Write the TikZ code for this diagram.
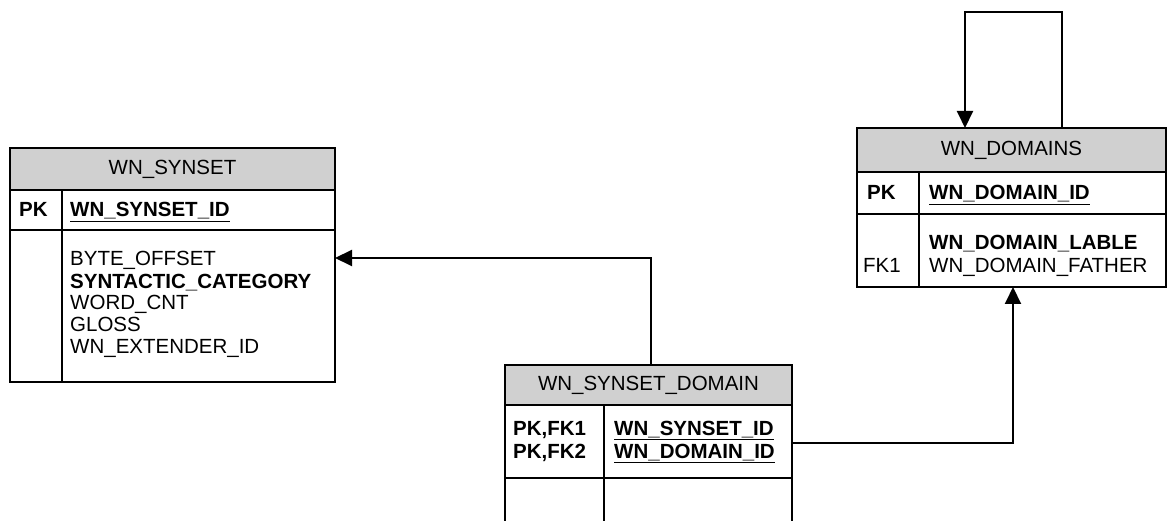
\documentclass[tikz,border=0pt]{standalone}
\usepackage{fontspec}
\setmainfont{Liberation Sans}
\usetikzlibrary{arrows.meta}
\definecolor{hdrgray}{RGB}{208,208,208}
\begin{document}
\begin{tikzpicture}[x=1pt,y=-1pt,
  box/.style={draw=black, line width=1.3pt, inner sep=0pt, outer sep=0pt, anchor=north west},
  hdr/.style={box, fill=hdrgray},
  title/.style={font=\fontsize{20.5}{22}\selectfont, inner sep=0pt},
  fld/.style={font=\fontsize{20.5}{22}\selectfont, inner sep=0pt, anchor=base west, align=left},
  fldw/.style={fld, font=\fontsize{20.5}{23}\selectfont},
  key/.style={fld, font=\fontsize{20.5}{23}\selectfont\bfseries},
  conn/.style={draw=black, line width=2pt},
  tip/.style={-{Triangle[length=17pt,width=16pt]}},
  rule/.style={draw=black, line width=1.3pt}
]
\useasboundingbox (0,0) rectangle (1168,521);

% ---------- WN_SYNSET ----------
\node[hdr, minimum width=325pt, minimum height=42pt] (sh) at (10,148) {};
\node[title] (sht) at (sh.center) {WN\_SYNSET};
\node[box, minimum width=325pt, minimum height=40pt] (spk) at (10,190) {};
\node[box, minimum width=325pt, minimum height=152pt] (sb) at (10,230) {};
\coordinate (sdiv) at (62,0);
\draw[rule] (spk.north -| sdiv) -- (sb.south -| sdiv);
\node[key] (spkl) at (19,217) {PK};
\node[key] (spkf) at (70,217) {\underline{WN\_SYNSET\_ID}};
% base anchor of a multi-line node is its last line
\node[fld] (sbf) at (70,354) {BYTE\_OFFSET\\\textbf{SYNTACTIC\_CATEGORY}\\WORD\_CNT\\GLOSS\\WN\_EXTENDER\_ID};

% ---------- WN_DOMAINS ----------
\node[hdr, minimum width=309pt, minimum height=44pt] (dh) at (857,128) {};
\node[title] (dht) at (dh.center) {WN\_DOMAINS};
\node[box, minimum width=309pt, minimum height=42pt] (dpk) at (857,172) {};
\node[box, minimum width=309pt, minimum height=73pt] (db) at (857,214) {};
\coordinate (ddiv) at (919,0);
\draw[rule] (dpk.north -| ddiv) -- (db.south -| ddiv);
\node[key] (dpkl) at (867,200) {PK};
\node[key] (dpkf) at (929,200) {\underline{WN\_DOMAIN\_ID}};
\node[fldw] (dbf) at (929,273) {\textbf{WN\_DOMAIN\_LABLE}\\WN\_DOMAIN\_FATHER};
\node[fld] (dfk) at (863,273) {FK1};

% ---------- WN_SYNSET_DOMAIN ----------
\node[hdr, minimum width=287pt, minimum height=40pt] (xh) at (505,365) {};
\node[title] (xht) at (xh.center) {WN\_SYNSET\_DOMAIN};
\node[box, minimum width=287pt, minimum height=73pt] (xpk) at (505,405) {};
\coordinate (xdiv) at (604,0);
\coordinate (xbot) at (0,522);
\draw[rule] (xpk.south west) -- (xpk.south west |- xbot);
\draw[rule] (xpk.south east) -- (xpk.south east |- xbot);
\draw[rule] (xpk.north -| xdiv) -- (xbot -| xdiv);
\node[key] (xpkl) at (513,458) {PK,FK1\\PK,FK2};
\node[key] (xpkf) at (614,458) {\underline{WN\_SYNSET\_ID}\\\underline{WN\_DOMAIN\_ID}};

% ---------- connectors ----------
\coordinate (p1) at (651,258);
\draw[conn, tip] (xh.north -| p1) -- (p1) -- (p1 -| sb.east);
\coordinate (p2) at (1013,443);
\draw[conn, tip] (p2 -| xpk.east) -- (p2) -- (p2 |- db.south);
\coordinate (p3) at (1062,12);
\coordinate (p4) at (965,12);
\draw[conn, tip] (dh.north -| p3) -- (p3) -- (p4) -- (p4 |- dh.north);
\end{tikzpicture}
\end{document}
